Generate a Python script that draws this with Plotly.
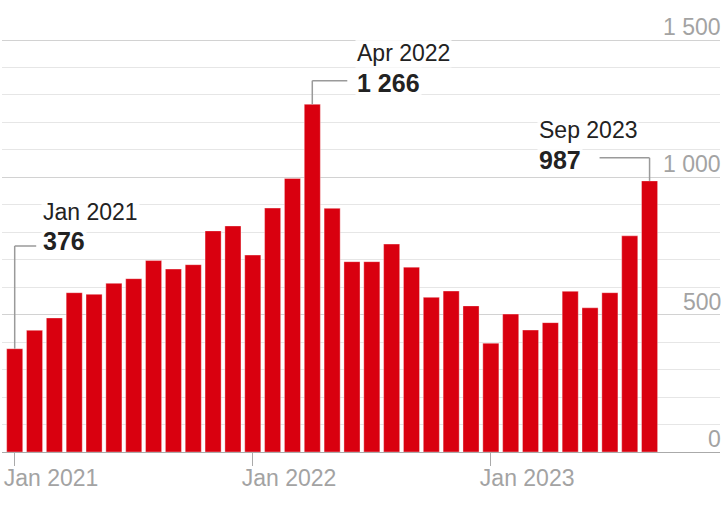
import plotly.graph_objects as go

# ---- data ----
months = ["Jan 2021", "Feb 2021", "Mar 2021", "Apr 2021", "May 2021", "Jun 2021",
          "Jul 2021", "Aug 2021", "Sep 2021", "Oct 2021", "Nov 2021", "Dec 2021",
          "Jan 2022", "Feb 2022", "Mar 2022", "Apr 2022", "May 2022", "Jun 2022",
          "Jul 2022", "Aug 2022", "Sep 2022", "Oct 2022", "Nov 2022", "Dec 2022",
          "Jan 2023", "Feb 2023", "Mar 2023", "Apr 2023", "May 2023", "Jun 2023",
          "Jul 2023", "Aug 2023", "Sep 2023"]
values = [376, 443, 488, 580, 574, 614, 631, 697, 666, 682, 805, 823,
          717, 888, 996, 1266, 887, 693, 693, 757, 673, 563, 586, 532,
          396, 502, 444, 471, 585, 525, 580, 787, 987]
x_tick_idx = [0, 12, 24]
x_tick_text = ["Jan 2021", "Jan 2022", "Jan 2023"]
y_tick_vals = [0, 500, 1000, 1500]
y_tick_text = ["0", "500", "1 000", "1 500"]
callout_idx = [0, 15, 32]
callout_value_text = ["376", "1 266", "987"]

FONT = "Liberation Sans, Arial, sans-serif"
BAR = "#d9000f"
GRAY_TXT = "#a3a3a3"
LEADER = "#9a9a9a"

xs = list(range(len(values)))

fig = go.Figure(go.Bar(
    x=xs, y=values,
    marker=dict(color=BAR, line=dict(color="rgba(255,255,255,0.35)", width=1)),
    hoverinfo="skip",
))

# callout layout: (leader level value, horizontal leader px span, text x shift px,
#                  month-label centre value, number centre value)
callout_layout = [
    (750, (0, 21.5), 26, 875, 767),
    (1352, (0, 35), 43, 1452, 1342),
    (1071, (-50, 0), -113, 1174, 1062),
]

shapes = []
annotations = []
for i, vt, (lvl, (h0, h1), dx, my, ny) in zip(callout_idx, callout_value_text, callout_layout):
    shapes.append(dict(type="line", xref="x", yref="y", x0=i, x1=i, y0=values[i], y1=lvl,
                       line=dict(color=LEADER, width=1.5), layer="above"))
    shapes.append(dict(type="line", xref="x", yref="y", xsizemode="pixel", xanchor=i,
                       x0=h0, x1=h1, y0=lvl, y1=lvl,
                       line=dict(color=LEADER, width=1.5), layer="above"))
    annotations.append(dict(
        xref="x", yref="y", x=i, y=my, xshift=dx, xanchor="left", yanchor="middle",
        showarrow=False, text=months[i],
        font=dict(family=FONT, size=23, color="#222222"),
        bgcolor="rgba(255,255,255,0.85)", borderpad=1,
    ))
    annotations.append(dict(
        xref="x", yref="y", x=i, y=ny, xshift=dx, xanchor="left", yanchor="middle",
        showarrow=False, text=f"<b>{vt}</b>",
        font=dict(family=FONT, size=25, color="#222222"),
        bgcolor="rgba(255,255,255,0.85)", borderpad=1,
    ))

# y-axis labels: right-aligned, sitting just above their gridlines
for v, t in zip(y_tick_vals, y_tick_text):
    annotations.append(dict(
        xref="paper", yref="y", x=1, y=v, xanchor="right", yanchor="middle",
        xshift=3, yshift=13, showarrow=False, text=t,
        font=dict(family=FONT, size=23, color=GRAY_TXT),
    ))

fig.update_layout(
    width=721, height=512,
    margin=dict(l=2, r=1, t=30, b=60, autoexpand=False),
    paper_bgcolor="white", plot_bgcolor="white",
    showlegend=False,
    bargap=0.19,
    font=dict(family=FONT, size=23, color=GRAY_TXT),
    shapes=shapes,
    annotations=annotations,
    xaxis=dict(
        range=[-0.64, 35.55], automargin=False,
        tickmode="array", tickvals=x_tick_idx, ticktext=x_tick_text,
        ticks="outside", ticklen=13, tickcolor="#aaaaaa", tickwidth=1,
        ticklabelposition="outside right", ticklabelshift=-12, ticklabelstandoff=5,
        tickfont=dict(family=FONT, size=23, color=GRAY_TXT),
        showgrid=False, zeroline=False,
        showline=True, linecolor="#aaaaaa", linewidth=1,
        fixedrange=True,
    ),
    yaxis=dict(
        range=[0, 1536.4], automargin=False,
        tickmode="array", tickvals=y_tick_vals,
        showticklabels=False, ticks="",
        showgrid=True, gridcolor="#d2d2d2", gridwidth=1,
        minor=dict(dtick=100, showgrid=True, gridcolor="#e6e6e6", gridwidth=1),
        zeroline=False, showline=False,
        fixedrange=True,
    ),
)

fig.write_html("out.html", config={"displayModeBar": False},
               post_script="document.body.style.margin='0';")
